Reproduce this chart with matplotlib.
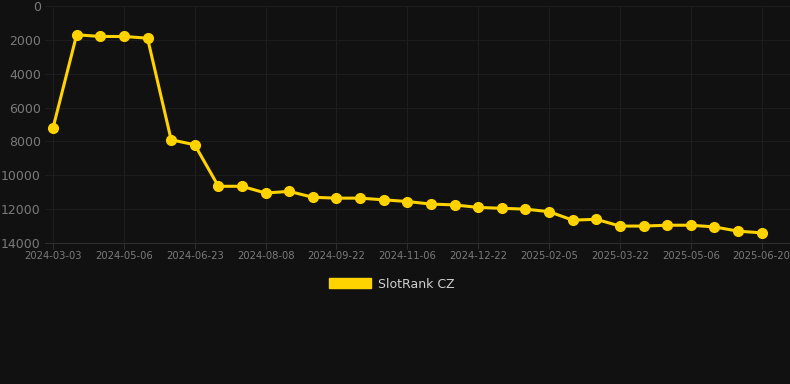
import matplotlib.pyplot as plt
import numpy as np
from matplotlib.patches import Patch

# rank per snapshot (lower is better), 31 snapshots
ranks = [7200, 1700, 1800, 1800, 1900, 7900, 8200, 10650, 10650, 11050,
         10950, 11300, 11350, 11350, 11450, 11550, 11700, 11750, 11900, 11950,
         12000, 12150, 12650, 12600, 13000, 13000, 12950, 12950, 13050, 13300,
         13400]
tick_labels = ["2024-03-03", "2024-05-06", "2024-06-23", "2024-08-08",
               "2024-09-22", "2024-11-06", "2024-12-22", "2025-02-05",
               "2025-03-22", "2025-05-06", "2025-06-20"]
y_ticks = [0, 2000, 4000, 6000, 8000, 10000, 12000, 14000]

bg = "#111111"
yellow = "#FFD300"
grid_c = "#1d1d1d"
text_c = "#7a7a7a"

fig = plt.figure(figsize=(7.9, 3.84), dpi=100, facecolor=bg)
ax = fig.add_axes([45 / 790, 141 / 384, 745 / 790, 237 / 384], facecolor=bg)

x = np.arange(len(ranks))
ax.plot(x, ranks, color=yellow, lw=2.2, marker="o", ms=7, zorder=3)

ax.set_ylim(14000, 0)
ax.set_xlim(-0.34, 31.2)
ax.set_yticks(y_ticks)
ax.set_xticks(x[::3])
ax.set_xticklabels(tick_labels)

ax.grid(True, color=grid_c, lw=0.8)
for s in ["top", "right", "left"]:
    ax.spines[s].set_visible(False)
ax.spines["bottom"].set_color("#2e2e2e")
ax.tick_params(axis="y", length=0, colors=text_c, labelsize=9, pad=3)
ax.tick_params(axis="x", length=4, color="#2e2e2e", colors=text_c, labelsize=7.2, pad=2)

fig.legend(handles=[Patch(color=yellow, label="SlotRank CZ")],
           loc="center", bbox_to_anchor=(392 / 790, 1 - 284 / 384),
           frameon=False, handlelength=3.3, handleheight=0.9, handletextpad=0.6,
           labelcolor="#d0d0d0", fontsize=9)

fig.savefig("out.png", dpi=100, facecolor=bg)
